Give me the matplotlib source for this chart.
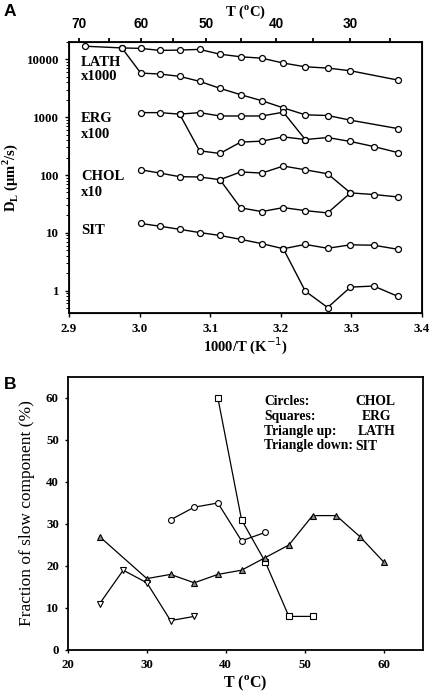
import numpy as np
import matplotlib
matplotlib.use("Agg")
import matplotlib.pyplot as plt
from matplotlib.ticker import FixedLocator, NullFormatter, LogLocator

plt.rcParams['font.family'] = ['Liberation Serif', 'DejaVu Serif']

# ---- panel A data (temperature in C, D_L as plotted) ----
lath_hi_T = [69, 63, 60, 57, 54, 51, 48, 45, 42, 39, 36, 33, 30, 24]
lath_hi_D = [16900, 15800, 15500, 14300, 14500, 14900, 12300, 11100, 10500, 8640, 7450, 7080, 6360, 4400]
lath_lo_T = [63, 60, 57, 54, 51, 48, 45, 42, 39, 36, 33, 30, 24]
lath_lo_D = [15800, 5800, 5580, 5090, 4170, 3160, 2450, 1930, 1450, 1100, 1070, 888, 637]

erg_hi_T = [60, 57, 54, 51, 48, 45, 42, 39, 36, 33, 30, 27, 24]
erg_hi_D = [1200, 1200, 1130, 1200, 1050, 1050, 1050, 1220, 411, 445, 380, 311, 245]
erg_lo_T = [54, 51, 48, 45, 42, 39, 36]
erg_lo_D = [1130, 262, 236, 371, 385, 457, 411]

chol_hi_T = [60, 57, 54, 51, 48, 45, 42, 39, 36, 33, 30, 27, 24]
chol_hi_D = [123, 108, 93.5, 92.5, 83, 113, 108, 143, 123, 105, 49, 46, 41.8]
chol_lo_T = [48, 45, 42, 39, 36, 33, 30]
chol_lo_D = [83, 27, 23.3, 27.3, 24.2, 22.1, 49]

sit_hi_T = [60, 57, 54, 51, 48, 45, 42, 39, 36, 33, 30, 27, 24]
sit_hi_D = [14.5, 13, 11.5, 10.1, 9, 7.7, 6.5, 5.3, 6.3, 5.4, 6.2, 6.1, 5.2]
sit_lo_T = [39, 36, 33, 30, 27, 24]
sit_lo_D = [5.3, 0.98, 0.51, 1.15, 1.2, 0.8]

# ---- panel B data ----
chol_T = [33, 36, 39, 42, 45]
chol_F = [31, 34, 35, 26, 28]
erg_T = [39, 42, 45, 48, 51]
erg_F = [60, 31, 21, 8, 8]
lath_T = [24, 30, 33, 36, 39, 42, 45, 48, 51, 54, 57, 60]
lath_F = [27, 17, 18, 16, 18, 19, 22, 25, 32, 32, 27, 21]
sit_T = [24, 27, 30, 33, 36]
sit_F = [11, 19, 16, 7, 8]


def inv_t(tc):
    return 1000.0 / (np.array(tc, dtype=float) + 273.15)


W, H = 431, 694
fig = plt.figure(figsize=(W / 100, H / 100), dpi=100)

def ax_rect(l, t, r, b):
    return [l / W, 1 - b / H, (r - l) / W, (b - t) / H]

TICK_FS = 9.3

# ================= panel A =================
ax = fig.add_axes(ax_rect(69, 42, 422, 313))
ax.set_yscale('log')
ax.set_xlim(2.9, 3.4)
ax.set_ylim(0.41, 20000)

kw = dict(color='black', lw=1.0, marker='o', ms=4.3, mfc='white', mec='black', mew=0.9)
for T, D in [(lath_hi_T, lath_hi_D), (lath_lo_T, lath_lo_D), (erg_hi_T, erg_hi_D),
             (erg_lo_T, erg_lo_D), (chol_hi_T, chol_hi_D), (chol_lo_T, chol_lo_D),
             (sit_hi_T, sit_hi_D), (sit_lo_T, sit_lo_D)]:
    ax.plot(inv_t(T), D, **kw)

ax.set_xticks([2.9, 3.0, 3.1, 3.2, 3.3, 3.4])
ax.set_xticklabels(['2.9', '3.0', '3.1', '3.2', '3.3', '3.4'], fontsize=TICK_FS, fontweight='bold')
ax.set_yticks([1, 10, 100, 1000, 10000])
ax.set_yticklabels(['1', '10', '100', '1000', '10000'], fontsize=TICK_FS, fontweight='bold')
ax.yaxis.set_minor_locator(LogLocator(base=10, subs=np.arange(2, 10)))
ax.yaxis.set_minor_formatter(NullFormatter())
ax.tick_params(axis='both', which='major', direction='out', length=3, width=1.0, pad=4)
ax.tick_params(axis='y', which='minor', direction='out', length=2, width=0.7)
for s in ax.spines.values():
    s.set_linewidth(1.3)

ax.set_xlabel('1000/T (K$^{-1}$)', fontsize=10.5, fontweight='bold', labelpad=1)
ax.set_ylabel(r'D$_\mathregular{L}$ ($\mathregular{\mu}$m$^\mathregular{2}$/s)', fontsize=10.5,
              fontweight='bold', labelpad=5)

# top temperature axis
top = ax.twiny()
top.set_xlim(2.9, 3.4)
top.set_xticks(inv_t([70, 60, 50, 40, 30]))
top.set_xticklabels(['70', '60', '50', '40', '30'], fontsize=9.8, fontweight='bold',
                    family=['Liberation Sans', 'DejaVu Sans'])
top.xaxis.set_minor_locator(FixedLocator(inv_t([65, 55, 45, 35, 25])))
top.tick_params(axis='x', which='both', direction='out', length=3, width=1.3, pad=5)
top.set_xlabel('T ($^\mathregular{o}$C)', fontsize=10.5, fontweight='bold', labelpad=1)

for txt, y in [('LATH', 62), ('x1000', 77), ('ERG', 118), ('x100', 134),
               ('CHOL', 177), ('x10', 193), ('SIT', 231)]:
    fig.text(81 / W, 1 - y / H, txt, fontsize=10.5, fontweight='bold', va='center', ha='left')

fig.text(4 / W, 1 - 11 / H, 'A', fontsize=12.5, fontweight='bold',
         family=['Liberation Sans', 'DejaVu Sans'], va='center', ha='left')

# ================= panel B =================
bx = fig.add_axes(ax_rect(68, 377, 423, 650))
bx.set_xlim(20, 65)
bx.set_ylim(0, 65)
bkw = dict(color='black', lw=0.9, mec='black', mew=0.8, ms=4.2)
bx.plot(chol_T, chol_F, marker='o', mfc='white', **bkw)
bx.plot(erg_T, erg_F, marker='s', mfc='white', **bkw)
bx.plot(lath_T, lath_F, marker='^', mfc='#8a8a8a', **bkw)
bx.plot(sit_T, sit_F, marker='v', mfc='white', **bkw)

bx.set_xticks([20, 30, 40, 50, 60])
bx.set_xticklabels(['20', '30', '40', '50', '60'], fontsize=TICK_FS, fontweight='bold')
bx.set_yticks([0, 10, 20, 30, 40, 50, 60])
bx.set_yticklabels(['0', '10', '20', '30', '40', '50', '60'], fontsize=TICK_FS, fontweight='bold')
bx.tick_params(axis='both', direction='out', length=2.5, width=1.0, pad=4)
for s in bx.spines.values():
    s.set_linewidth(1.3)
bx.set_xlabel('T ($^\mathregular{o}$C)', fontsize=11.5, fontweight='bold', labelpad=2)
bx.set_ylabel('Fraction of slow component (%)', fontsize=12.5, labelpad=8)

legend_rows = [('Circles:', 'CHOL', 401.7, 355), ('Squares:', 'ERG', 416.7, 362),
               ('Triangle up:', 'LATH', 431.7, 358), ('Triangle down:', 'SIT', 446, 355)]
for name, comp, y, x2 in legend_rows:
    fig.text(264 / W, 1 - y / H, name, fontsize=9.8, fontweight='bold', va='center', ha='left')
    fig.text(x2 / W, 1 - y / H, comp, fontsize=9.8, fontweight='bold', va='center', ha='left')

fig.text(4 / W, 1 - 384 / H, 'B', fontsize=12.5, fontweight='bold',
         family=['Liberation Sans', 'DejaVu Sans'], va='center', ha='left')

fig.savefig('out.png', dpi=100)
